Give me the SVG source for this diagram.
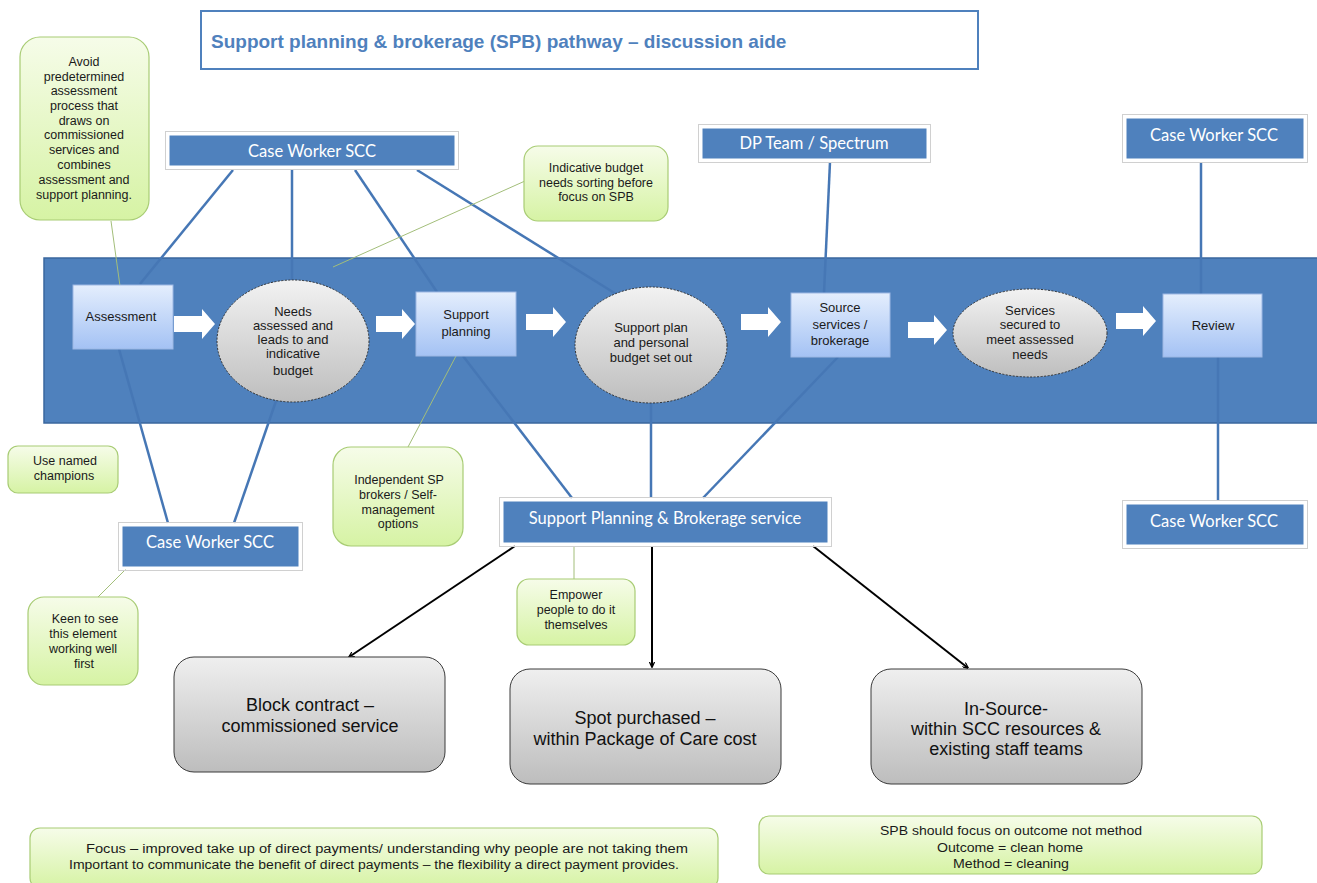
<svg xmlns="http://www.w3.org/2000/svg" width="1317" height="883" viewBox="0 0 1317 883">
<style>
.blue{fill:#4F81BD;stroke:#fff;stroke-width:3}
.bshadow{fill:none;stroke:#d0d0d0;stroke-width:1}
.btxt{font-family:Lato,"Open Sans",sans-serif;font-size:16.5px;fill:#fff;text-anchor:middle}
.proc{fill:url(#gProc);stroke:#9DB8E4;stroke-width:1}
.ell{fill:url(#gEll);stroke:#333;stroke-width:1;stroke-dasharray:2 1.5}
.ptxt{font-family:"Liberation Sans",Arial,sans-serif;font-size:13px;fill:#1a1a1a;text-anchor:middle}
.note{fill:url(#gNote);stroke:#A8CC74;stroke-width:1.2}
.ntxt{font-family:"Liberation Sans",Arial,sans-serif;font-size:12.5px;fill:#1a1a1a;text-anchor:middle}
.gray{fill:url(#gGray);stroke:#3a3a3a;stroke-width:1}
.gtxt{font-family:"Liberation Sans",Arial,sans-serif;font-size:18px;fill:#111;text-anchor:middle}
.cb{stroke:#4677B5;stroke-width:2.5;fill:none}
.cg{stroke:#A3BE7A;stroke-width:1;fill:none}
.ck{stroke:#000;stroke-width:2;fill:none;marker-end:url(#ah)}
.warrow{fill:#fff}
</style>
<defs>
<linearGradient id="gProc" x1="0" y1="0" x2="0" y2="1"><stop offset="0" stop-color="#E4EEFD"/><stop offset="1" stop-color="#A4C2F4"/></linearGradient>
<linearGradient id="gEll" x1="0" y1="0" x2="0" y2="1"><stop offset="0" stop-color="#F2F2F2"/><stop offset="1" stop-color="#BEBEBE"/></linearGradient>
<linearGradient id="gNote" x1="0" y1="0" x2="0" y2="1"><stop offset="0" stop-color="#F6FCE9"/><stop offset="1" stop-color="#D6F3A4"/></linearGradient>
<linearGradient id="gGray" x1="0" y1="0" x2="0" y2="1"><stop offset="0" stop-color="#EFEFEF"/><stop offset="1" stop-color="#BDBDBD"/></linearGradient>
<marker id="ah" viewBox="0 0 10 10" refX="9" refY="5" markerWidth="6" markerHeight="6" orient="auto" markerUnits="userSpaceOnUse">
<path d="M0,0.5 L10,5 L0,9.5" fill="none" stroke="#000" stroke-width="2"/>
</marker>
</defs>
<rect width="1317" height="883" fill="#fff"/>

<g id="title">
<rect x="201" y="11" width="777" height="58" fill="#fff" stroke="#4F81BD" stroke-width="2"/>
<text x="211" y="48" font-family="'Liberation Sans',Arial,sans-serif" font-size="19" font-weight="bold" fill="#4F81BD">Support planning &amp; brokerage (SPB) pathway – discussion aide</text>
</g>

<g id="band">
<rect x="44" y="258" width="1280" height="165" fill="#4F81BD" stroke="#3A679E" stroke-width="1.5"/>
</g>

<g id="connectors">
<line class="cb" x1="233" y1="170" x2="140" y2="284"/>
<line class="cb" x1="292" y1="170" x2="292" y2="281"/>
<line class="cb" x1="355" y1="170" x2="437" y2="292"/>
<line class="cb" x1="417" y1="170" x2="616" y2="294"/>
<line class="cb" x1="830" y1="162" x2="824" y2="293"/>
<line class="cb" x1="1201" y1="162" x2="1201" y2="294"/>
<line class="cb" x1="1218" y1="357" x2="1218" y2="501"/>
<line class="cb" x1="119" y1="349" x2="168" y2="523"/>
<line class="cb" x1="276" y1="401" x2="234" y2="523"/>
<line class="cb" x1="463" y1="356" x2="572" y2="498"/>
<line class="cb" x1="651" y1="403" x2="651" y2="498"/>
<line class="cb" x1="838" y1="357" x2="703" y2="498"/>
<line class="cg" x1="111" y1="221" x2="120" y2="286"/>
<line class="cg" x1="525" y1="181" x2="333" y2="267"/>
<line class="cg" x1="456" y1="356" x2="408" y2="447"/>
<line class="cg" x1="127" y1="568" x2="98" y2="597"/>
<line class="cg" x1="574" y1="546" x2="574" y2="579"/>
<line class="ck" x1="515" y1="546" x2="349" y2="657"/>
<line class="ck" x1="652" y1="546" x2="652" y2="667"/>
<line class="ck" x1="813" y1="546" x2="968" y2="668"/>
<path class="warrow" d="M174,316 h28 v-7 l13,15 l-13,15 v-7 h-28 z"/>
<path class="warrow" d="M376,316 h26 v-7 l13,15 l-13,15 v-7 h-26 z"/>
<path class="warrow" d="M526,314 h27 v-7 l13,15 l-13,15 v-7 h-27 z"/>
<path class="warrow" d="M741,314 h27 v-7 l13,15 l-13,15 v-7 h-27 z"/>
<path class="warrow" d="M908,322 h26 v-7 l13,15 l-13,15 v-7 h-26 z"/>
<path class="warrow" d="M1116,313 h27 v-7 l13,15 l-13,15 v-7 h-27 z"/>
</g>

<g id="cw-top">
<rect x="165.5" y="131.5" width="293" height="38" class="bshadow"/>
<rect x="168" y="134" width="288" height="33" class="blue"/>
<text x="312" y="157" class="btxt">Case Worker SCC</text>
</g>
<g id="dp-team">
<rect x="698.5" y="124.5" width="232" height="38" class="bshadow"/>
<rect x="701" y="127" width="227" height="33" class="blue"/>
<text x="814" y="149" class="btxt">DP Team / Spectrum</text>
</g>
<g id="cw-right-top">
<rect x="1122.5" y="114.5" width="185" height="48" class="bshadow"/>
<rect x="1125" y="117" width="180" height="43" class="blue"/>
<text x="1214" y="141" class="btxt">Case Worker SCC</text>
</g>
<g id="cw-right-bottom">
<rect x="1122.5" y="500.5" width="185" height="48" class="bshadow"/>
<rect x="1125" y="503" width="180" height="43" class="blue"/>
<text x="1214" y="527" class="btxt">Case Worker SCC</text>
</g>
<g id="cw-bottom-left">
<rect x="118.5" y="522.5" width="184" height="48" class="bshadow"/>
<rect x="121" y="525" width="179" height="43" class="blue"/>
<text x="210" y="548" class="btxt">Case Worker SCC</text>
</g>
<g id="spb-service">
<rect x="499.5" y="497.5" width="332" height="49" class="bshadow"/>
<rect x="502" y="500" width="327" height="44" class="blue"/>
<text x="665" y="524" class="btxt">Support Planning &amp; Brokerage service</text>
</g>

<g id="assessment">
<rect x="73" y="285" width="100" height="64" class="proc"/>
<text x="121" y="321" class="ptxt">Assessment</text>
</g>
<g id="needs">
<ellipse cx="293" cy="341" rx="76" ry="61" class="ell"/>
<text class="ptxt" x="293"><tspan x="293" y="316">Needs</tspan><tspan x="293" y="330">assessed and</tspan><tspan x="293" y="344">leads to and</tspan><tspan x="293" y="358">indicative</tspan><tspan x="293" y="375">budget</tspan></text>
</g>
<g id="support-planning">
<rect x="416" y="292" width="100" height="64" class="proc"/>
<text class="ptxt"><tspan x="466" y="319">Support</tspan><tspan x="466" y="336">planning</tspan></text>
</g>
<g id="support-plan">
<ellipse cx="651" cy="345" rx="76" ry="58" class="ell"/>
<text class="ptxt" font-size="12"><tspan x="651" y="332">Support plan</tspan><tspan x="651" y="347">and personal</tspan><tspan x="651" y="362">budget set out</tspan></text>
</g>
<g id="source-services">
<rect x="791" y="293" width="99" height="64" class="proc"/>
<text class="ptxt"><tspan x="840" y="312">Source</tspan><tspan x="840" y="329">services /</tspan><tspan x="840" y="345">brokerage</tspan></text>
</g>
<g id="services-secured">
<ellipse cx="1030" cy="333" rx="77" ry="44" class="ell"/>
<text class="ptxt" font-size="12"><tspan x="1030" y="315">Services</tspan><tspan x="1030" y="329">secured to</tspan><tspan x="1030" y="344">meet assessed</tspan><tspan x="1030" y="359">needs</tspan></text>
</g>
<g id="review">
<rect x="1163" y="294" width="99" height="63" class="proc"/>
<text x="1213" y="330" class="ptxt" font-size="11">Review</text>
</g>

<g id="note-avoid">
<rect x="20" y="37" width="129" height="183" rx="20" class="note"/>
<text class="ntxt"><tspan x="84" y="66">Avoid</tspan><tspan x="84" y="81">predetermined</tspan><tspan x="84" y="95">assessment</tspan><tspan x="84" y="110">process that</tspan><tspan x="84" y="125">draws on</tspan><tspan x="84" y="139">commissioned</tspan><tspan x="84" y="154">services and</tspan><tspan x="84" y="169">combines</tspan><tspan x="84" y="184">assessment and</tspan><tspan x="84" y="199">support planning.</tspan></text>
</g>
<g id="note-indicative">
<rect x="524" y="146" width="144" height="75" rx="14" class="note"/>
<text class="ntxt"><tspan x="596" y="172">Indicative budget</tspan><tspan x="596" y="187">needs sorting before</tspan><tspan x="596" y="201">focus on SPB</tspan></text>
</g>
<g id="note-champions">
<rect x="8" y="446" width="110" height="47" rx="10" class="note"/>
<text class="ntxt"><tspan x="65" y="465">Use named</tspan><tspan x="64" y="480">champions</tspan></text>
</g>
<g id="note-independent">
<rect x="333" y="447" width="130" height="99" rx="18" class="note"/>
<text class="ntxt"><tspan x="399" y="484">Independent SP</tspan><tspan x="398" y="499">brokers / Self-</tspan><tspan x="398" y="514">management</tspan><tspan x="398" y="528">options</tspan></text>
</g>
<g id="note-keen">
<rect x="28" y="597" width="110" height="88" rx="16" class="note"/>
<text class="ntxt"><tspan x="85" y="623">Keen to see</tspan><tspan x="83" y="638">this element</tspan><tspan x="83" y="653">working well</tspan><tspan x="84" y="668">first</tspan></text>
</g>
<g id="note-empower">
<rect x="517" y="579" width="118" height="66" rx="12" class="note"/>
<text class="ntxt"><tspan x="576" y="599">Empower</tspan><tspan x="576" y="614">people to do it</tspan><tspan x="576" y="629">themselves</tspan></text>
</g>

<g id="block-contract">
<rect x="174" y="657" width="271" height="115" rx="20" class="gray"/>
<text class="gtxt"><tspan x="310" y="711">Block contract –</tspan><tspan x="310" y="732">commissioned service</tspan></text>
</g>
<g id="spot-purchased">
<rect x="510" y="669" width="271" height="115" rx="20" class="gray"/>
<text class="gtxt"><tspan x="645" y="724">Spot purchased –</tspan><tspan x="645" y="745">within Package of Care cost</tspan></text>
</g>
<g id="in-source">
<rect x="871" y="669" width="271" height="115" rx="20" class="gray"/>
<text class="gtxt"><tspan x="1006" y="715">In-Source-</tspan><tspan x="1006" y="735">within SCC resources &amp;</tspan><tspan x="1006" y="755">existing staff teams</tspan></text>
</g>

<g id="note-focus">
<rect x="30" y="828" width="688" height="60" rx="10" class="note"/>
<text class="ntxt" font-size="12"><tspan x="387" y="853" textLength="602" lengthAdjust="spacingAndGlyphs">Focus – improved take up of direct payments/ understanding why people are not taking them</tspan><tspan x="374" y="869" textLength="610" lengthAdjust="spacingAndGlyphs">Important to communicate the benefit of direct payments – the flexibility a direct payment provides.</tspan></text>
</g>
<g id="note-spb">
<rect x="759" y="816" width="503" height="58" rx="10" class="note"/>
<text class="ntxt" font-size="12"><tspan x="1011" y="835" textLength="262" lengthAdjust="spacingAndGlyphs">SPB should focus on outcome not method</tspan><tspan x="1010" y="852" textLength="146" lengthAdjust="spacingAndGlyphs">Outcome = clean home</tspan><tspan x="1011" y="868" textLength="116" lengthAdjust="spacingAndGlyphs">Method = cleaning</tspan></text>
</g>
</svg>
